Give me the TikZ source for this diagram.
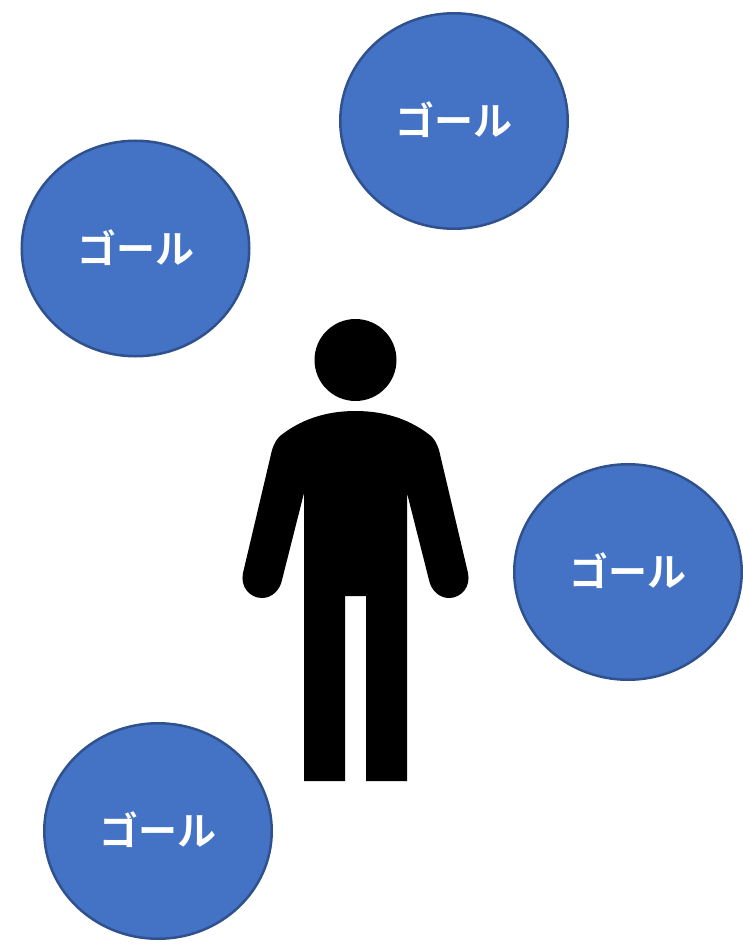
\documentclass[tikz,border=0pt]{standalone}
\usepackage{fontspec}
\usepackage{tikz}
\usetikzlibrary{shapes.geometric}
\newfontfamily\cjk{Noto Sans CJK JP}[BoldFont={Noto Sans CJK JP Bold}]
\definecolor{goalfill}{HTML}{4472C4}
\definecolor{goalline}{HTML}{2F528F}
\newcommand{\goaltext}{\raisebox{4pt}{ゴール}}

\begin{document}
\begin{tikzpicture}[
  x=1pt, y=-1pt,
  goal/.style={ellipse, draw=goalline, fill=goalfill, line width=2.5pt, minimum width=227.5pt, minimum height=215.5pt, inner sep=0pt, text=white, font=\cjk\bfseries\fontsize{39}{39}\selectfont},
  head/.style={circle, fill=black, minimum size=82pt, inner sep=0pt}
]
\useasboundingbox (0,0) rectangle (743,944);

% --- Nodes ---
\node[goal] (G1) at (454,121) {\goaltext};
\node[goal] (G2) at (135.5,248.5) {\goaltext};
\node[goal] (G3) at (628,572) {\goaltext};
\node[goal] (G4) at (158,831) {\goaltext};

% --- Person ---
\node[head] (H) at (355.5,360) {};

\fill[black] (355.5,411)
  .. controls (325,411) and (300,420) .. (280,436)
  .. controls (276,440) and (274,444) .. (272,450)
  -- (243,573)
  .. controls (240,587) and (250,598) .. (262,598)
  .. controls (272,598) and (280,590) .. (282,580)
  -- (304,493) -- (304,781) -- (345,781) -- (345,596)
  -- (366,596) -- (366,781) -- (407,781) -- (407,493)
  -- (429,580)
  .. controls (431,590) and (439,598) .. (449,598)
  .. controls (461,598) and (471,587) .. (468,573)
  -- (439,450)
  .. controls (437,444) and (435,440) .. (431,436)
  .. controls (411,420) and (386,411) .. (355.5,411) -- cycle;

\end{tikzpicture}
\end{document}
